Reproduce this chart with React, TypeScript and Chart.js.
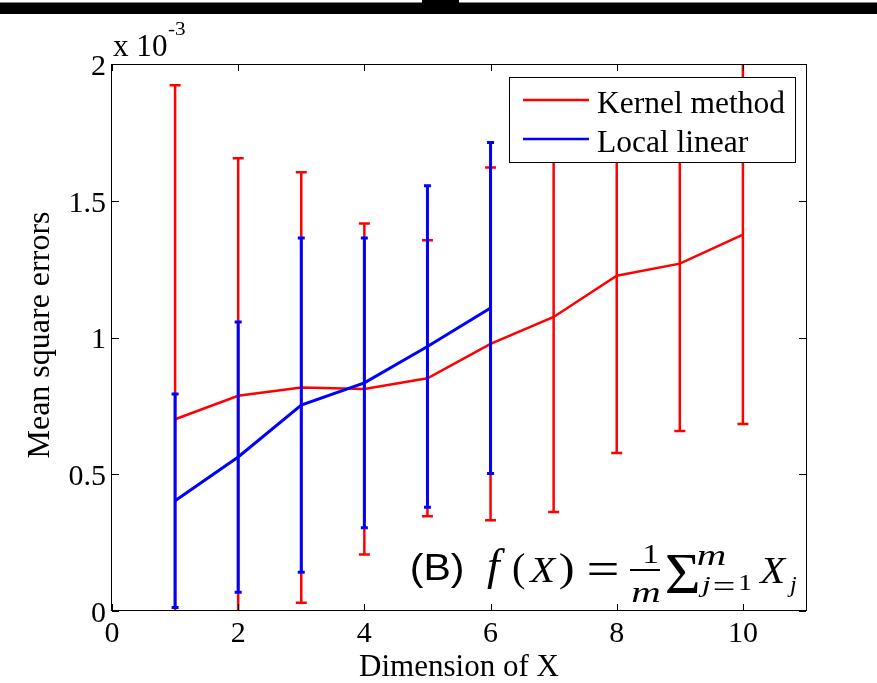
import React, { useEffect, useRef } from "react";
import { Chart, registerables } from "chart.js";

Chart.register(...registerables);

// Values in units of 1e-3 (axis shows "x 10^-3")
const kernelDims = [1, 2, 3, 4, 5, 6, 7, 8, 9, 10];
const kernelMean = [0.701, 0.787, 0.817, 0.812, 0.851, 0.977, 1.075, 1.226, 1.27, 1.376];
const kernelErr = [1.221, 0.868, 0.787, 0.605, 0.505, 0.645, 0.713, 0.648, 0.612, 0.692];

const localDims = [1, 2, 3, 4, 5, 6];
const localMean = [0.403, 0.563, 0.753, 0.834, 0.967, 1.108];
const localErr = [0.39, 0.494, 0.611, 0.53, 0.588, 0.605];

const xTicks = [0, 2, 4, 6, 8, 10];
const yTicks = [0, 0.5, 1, 1.5, 2];
const seriesNames = ["Kernel method", "Local linear"];
const seriesColors = ["#ff0000", "#0000ff"];
const xTitle = "Dimension of X";
const yTitle = "Mean square errors";

const SERIF = '"Liberation Serif", "Times New Roman", serif';
const SANS = '"Liberation Sans", Arial, sans-serif';

// Draw text so that its ink box fills (x0,y0)-(x1,y1): font size chosen from height,
// with only a limited horizontal stretch.
function fitBox(
  ctx: CanvasRenderingContext2D,
  text: string,
  style: string,
  family: string,
  x0: number,
  y0: number,
  x1: number,
  y1: number,
  maxDistort = 1.25
) {
  ctx.save();
  ctx.textAlign = "left";
  ctx.textBaseline = "alphabetic";
  ctx.font = `${style} 100px ${family}`;
  const m0 = ctx.measureText(text);
  const h0 = m0.actualBoundingBoxAscent + m0.actualBoundingBoxDescent || 1;
  const size = (100 * (y1 - y0)) / h0;
  ctx.font = `${style} ${size}px ${family}`;
  const m = ctx.measureText(text);
  const left = -m.actualBoundingBoxLeft;
  const right = m.actualBoundingBoxRight;
  const asc = m.actualBoundingBoxAscent;
  const desc = m.actualBoundingBoxDescent;
  const w = right - left || 1;
  const h = asc + desc || 1;
  const sy = (y1 - y0) / h;
  let sx = (x1 - x0) / w;
  sx = Math.min(Math.max(sx, sy / maxDistort), sy * maxDistort);
  const cx = (x0 + x1) / 2;
  ctx.translate(cx - (w * sx) / 2, y0);
  ctx.scale(sx, sy);
  ctx.fillText(text, -left, asc);
  ctx.restore();
}

const errorBarPlugin = {
  id: "errorBars",
  afterDatasetDraw(chart: any, args: any) {
    const ds = chart.data.datasets[args.index];
    const errs: number[] = ds.errors;
    if (!errs) return;
    const { ctx, chartArea } = chart;
    const xs = chart.scales.x;
    const ys = chart.scales.y;
    ctx.save();
    ctx.beginPath();
    ctx.rect(chartArea.left, chartArea.top, chartArea.right - chartArea.left, chartArea.bottom - chartArea.top);
    ctx.clip();
    ctx.strokeStyle = ds.borderColor;
    ctx.lineWidth = ds.errWidth;
    ctx.lineCap = "butt";
    ds.data.forEach((p: any, i: number) => {
      const px = xs.getPixelForValue(p.x);
      const top = ys.getPixelForValue(p.y + errs[i]);
      const bot = ys.getPixelForValue(p.y - errs[i]);
      const hw = ds.capHalf;
      ctx.beginPath();
      ctx.moveTo(px, top);
      ctx.lineTo(px, bot);
      ctx.moveTo(px - hw, top);
      ctx.lineTo(px + hw, top);
      ctx.moveTo(px - hw, bot);
      ctx.lineTo(px + hw, bot);
      ctx.stroke();
    });
    ctx.restore();
  },
};

const decorPlugin = {
  id: "decor",
  afterDraw(chart: any) {
    const { ctx, chartArea } = chart;
    const { left, right, top, bottom } = chartArea;
    const xs = chart.scales.x;
    const ys = chart.scales.y;
    ctx.save();

    // top black strip of the reference image
    ctx.fillStyle = "#000";
    ctx.fillRect(0, 2.5, 877, 11.5);
    ctx.fillRect(422, 0, 37, 3);

    // axes box
    ctx.strokeStyle = "#000";
    ctx.lineWidth = 1;
    ctx.strokeRect(left - 0.5, top + 0.5, right - left + 1, bottom - top - 1);

    // inner ticks
    const tl = 7;
    ctx.beginPath();
    xTicks.forEach((v) => {
      const px = Math.round(xs.getPixelForValue(v)) + 0.5;
      ctx.moveTo(px, bottom);
      ctx.lineTo(px, bottom - tl);
      ctx.moveTo(px, top);
      ctx.lineTo(px, top + tl);
    });
    yTicks.forEach((v) => {
      const py = Math.round(ys.getPixelForValue(v)) + 0.5;
      ctx.moveTo(left, py);
      ctx.lineTo(left + tl, py);
      ctx.moveTo(right, py);
      ctx.lineTo(right - tl, py);
    });
    ctx.stroke();

    // exponent label
    ctx.fillStyle = "#000";
    fitBox(ctx, "x 10", "", SERIF, 113, 35, 167, 56);
    fitBox(ctx, "-3", "", SERIF, 168, 22, 185, 35, 2);

    // axis titles
    ctx.textAlign = "center";
    ctx.textBaseline = "alphabetic";
    ctx.font = `31px ${SERIF}`;
    ctx.fillText(xTitle, (left + right) / 2, 676);
    ctx.save();
    ctx.translate(49, 335);
    ctx.rotate(-Math.PI / 2);
    ctx.font = `32px ${SERIF}`;
    ctx.fillText(yTitle, 0, 0);
    ctx.restore();

    // legend
    const lx0 = 509, ly0 = 77, lx1 = 796, ly1 = 163;
    ctx.fillStyle = "#fff";
    ctx.fillRect(lx0, ly0, lx1 - lx0, ly1 - ly0);
    ctx.strokeStyle = "#000";
    ctx.lineWidth = 1;
    ctx.strokeRect(lx0 + 0.5, ly0 + 0.5, lx1 - lx0 - 1, ly1 - ly0 - 1);
    const rowsY = [100, 139];
    const baseY = [113, 152];
    seriesNames.forEach((name, i) => {
      ctx.strokeStyle = seriesColors[i];
      ctx.lineWidth = 2.5;
      ctx.beginPath();
      ctx.moveTo(523, rowsY[i]);
      ctx.lineTo(589, rowsY[i]);
      ctx.stroke();
      ctx.fillStyle = "#000";
      ctx.font = `31.5px ${SERIF}`;
      ctx.textAlign = "left";
      ctx.fillText(name, 597, baseY[i]);
    });

    // formula annotation
    ctx.fillStyle = "#000";
    fitBox(ctx, "(B)", "", SANS, 412, 553, 463, 588);
    fitBox(ctx, "f", "italic", SERIF, 487, 548, 505, 590, 1.4);
    fitBox(ctx, "(", "", SERIF, 513, 553, 525, 590);
    fitBox(ctx, "X", "italic", SERIF, 528, 558, 557, 582);
    fitBox(ctx, ")", "", SERIF, 560, 553, 573, 590);
    fitBox(ctx, "=", "", SERIF, 589, 563, 617, 575, 1.6);
    fitBox(ctx, "1", "", SERIF, 645, 545, 657, 563);
    ctx.fillRect(630, 569, 30, 2);
    fitBox(ctx, "m", "italic", SERIF, 632, 588, 660, 602, 1.4);
    fitBox(ctx, "\u03A3", "", SERIF, 667, 555, 698, 593, 1.3);
    fitBox(ctx, "m", "italic", SERIF, 698, 551, 725, 565, 1.4);
    fitBox(ctx, "j", "italic", SERIF, 698, 576, 711, 597, 1.4);
    fitBox(ctx, "=", "", SERIF, 714, 582, 734, 590, 1.6);
    fitBox(ctx, "1", "", SERIF, 739, 575, 752, 590);
    fitBox(ctx, "X", "italic", SERIF, 758, 558, 787, 583);
    fitBox(ctx, "j", "italic", SERIF, 787, 576, 797, 597, 1.4);

    ctx.restore();
  },
};

export default function App() {
  const ref = useRef<HTMLCanvasElement>(null);

  useEffect(() => {
    document.body.style.margin = "0";
    const canvas = ref.current;
    if (!canvas) return;
    const chart = new Chart(canvas, {
      type: "line",
      data: {
        datasets: [
          {
            label: seriesNames[0],
            data: kernelDims.map((d, i) => ({ x: d, y: kernelMean[i] })),
            errors: kernelErr,
            errWidth: 2.5,
            capHalf: 5.5,
            borderColor: seriesColors[0],
            backgroundColor: seriesColors[0],
            borderWidth: 2.5,
            pointRadius: 0,
            tension: 0,
            fill: false,
            order: 2,
          } as any,
          {
            label: seriesNames[1],
            data: localDims.map((d, i) => ({ x: d, y: localMean[i] })),
            errors: localErr,
            errWidth: 3,
            capHalf: 3.5,
            borderColor: seriesColors[1],
            backgroundColor: seriesColors[1],
            borderWidth: 3,
            pointRadius: 0,
            tension: 0,
            fill: false,
            order: 1,
          } as any,
        ],
      },
      options: {
        responsive: false,
        animation: false,
        devicePixelRatio: 1,
        layout: { padding: { left: 0, top: 64, right: 71, bottom: 0 } },
        plugins: {
          legend: { display: false },
          tooltip: { enabled: false },
        },
        scales: {
          x: {
            type: "linear",
            min: 0,
            max: 11,
            grid: { display: false, drawTicks: false },
            border: { display: false },
            afterBuildTicks: (s: any) => {
              s.ticks = xTicks.map((v) => ({ value: v }));
            },
            afterFit: (s: any) => {
              s.height = 72;
            },
            ticks: {
              color: "#000",
              padding: 5,
              maxRotation: 0,
              autoSkip: false,
              font: { family: SERIF, size: 30 },
              callback: (v: any) => String(v),
            },
          },
          y: {
            type: "linear",
            min: 0,
            max: 2,
            grid: { display: false, drawTicks: false },
            border: { display: false },
            afterBuildTicks: (s: any) => {
              s.ticks = yTicks.map((v) => ({ value: v }));
            },
            afterFit: (s: any) => {
              s.width = 112;
            },
            ticks: {
              color: "#000",
              padding: 6,
              autoSkip: false,
              labelOffset: 3,
              font: { family: SERIF, size: 30 },
              callback: (v: any) => String(v),
            },
          },
        },
      },
      plugins: [errorBarPlugin, decorPlugin],
    });
    return () => chart.destroy();
  }, []);

  return (
    <canvas
      ref={ref}
      width={877}
      height={683}
      style={{ display: "block", width: 877, height: 683 }}
    />
  );
}
